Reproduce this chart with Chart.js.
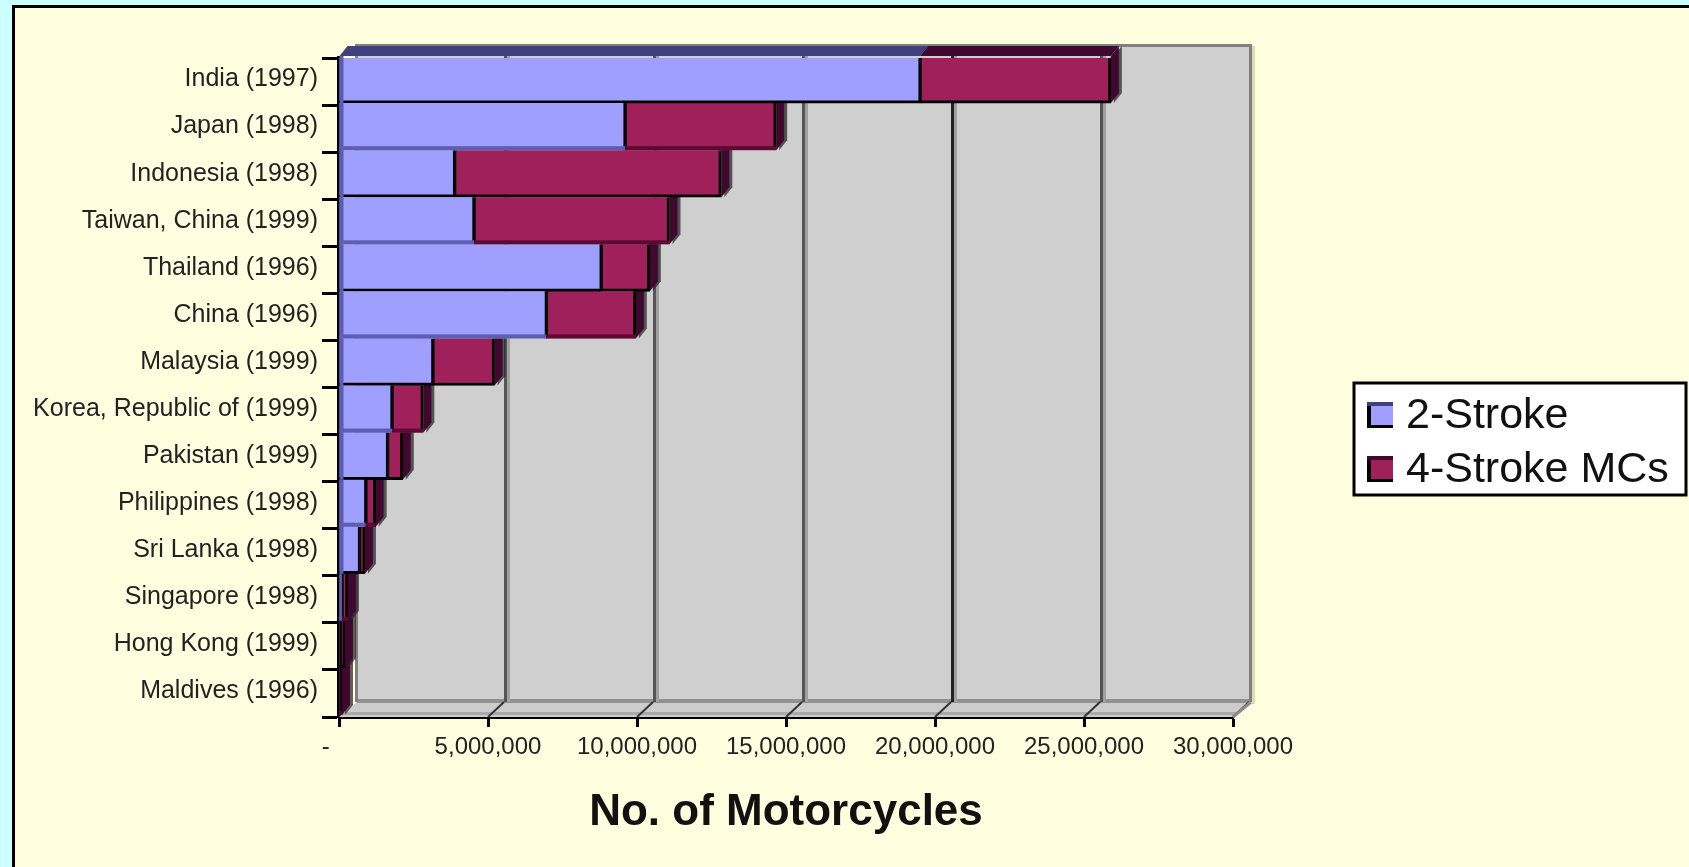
<!DOCTYPE html>
<html><head><meta charset="utf-8">
<script src="https://cdn.jsdelivr.net/npm/chart.js@4"></script>
<style>
html,body{margin:0;padding:0;background:#ccffff;overflow:hidden}
#panel{position:absolute;left:12px;top:5px;width:1700px;height:900px;background:#ffffdf;border:3px solid #000;box-sizing:border-box}
#wrap{position:absolute;left:0;top:0;width:1689px;height:867px}
canvas{filter:blur(0.5px)}
</style></head><body>
<div id="panel"></div>
<div id="wrap"><canvas id="c" width="1689" height="867"></canvas></div>
<script>
const categories=["India (1997)","Japan (1998)","Indonesia (1998)","Taiwan, China (1999)","Thailand (1996)","China (1996)","Malaysia (1999)","Korea, Republic of (1999)","Pakistan (1999)","Philippines (1998)","Sri Lanka (1998)","Singapore (1998)","Hong Kong (1999)","Maldives (1996)"];
const twoStroke=[19500000,9600000,3880000,4530000,8800000,6960000,3150000,1780000,1630000,900000,690000,100000,50000,10000];
const fourStroke=[6400000,5070000,8950000,6560000,1630000,3000000,2070000,1050000,510000,330000,180000,200000,150000,90000];
const xTickLabels=["-    ","5,000,000","10,000,000","15,000,000","20,000,000","25,000,000","30,000,000"];
const seriesNames=["2-Stroke","4-Stroke MCs"];
const xTitle="No. of Motorcycles";

const WALL_DX=18,WALL_TOP=12,WALL_BOT=15,BAR_DX=8,BAR_DY=10,BAR_LIFT=2;
const blue="#9f9fff",purple="#a0205c",blueDark="#40407f",purpleDark="#40082e";

const wall3d={id:'wall3d',
afterDatasetsUpdate(ch){
  ch.data.datasets.forEach((d,i)=>ch.getDatasetMeta(i).data.forEach(b=>{b.y-=BAR_LIFT;}));
},
beforeDatasetsDraw(ch){
  const {ctx,chartArea:a,scales:{x}}=ch;
  const wt=a.top-WALL_TOP,wb=a.bottom-WALL_BOT,wl=a.left+WALL_DX,wr=a.right+WALL_DX;
  ctx.save();
  // floor
  ctx.fillStyle="#cccccc";
  ctx.beginPath();ctx.moveTo(a.left,a.bottom);ctx.lineTo(wl,wb);ctx.lineTo(wr,wb);ctx.lineTo(a.right,a.bottom);ctx.closePath();ctx.fill();
  ctx.fillStyle="#aaaaaa";ctx.fillRect(a.left,a.bottom-5,a.width+3,3);
  // back wall
  ctx.fillStyle="#cfcfcf";
  ctx.fillRect(wl,wt,a.width,wb-wt);
  ctx.fillStyle="#919191";ctx.fillRect(wl,wb-3,a.width,4);
  // gridlines
  x.ticks.forEach((t,i)=>{
    if(i===0)return;
    const px=x.getPixelForTick(i)+WALL_DX;
    ctx.fillStyle="#a0a0a0";ctx.fillRect(px+1,wt,3,wb-wt);
    ctx.fillStyle=i===4?"#222":"#555";ctx.fillRect(px-2,wt,3,wb-wt);
    ctx.strokeStyle="#333";ctx.lineWidth=2;ctx.beginPath();ctx.moveTo(px-WALL_DX,a.bottom);ctx.lineTo(px-2,wb);ctx.stroke();
  });
  // wall frame
  ctx.fillStyle="#808080";
  ctx.fillRect(wl-2,wt-2,a.width+3,3);
  ctx.fillRect(wl-2,wt,3,wb-wt);
  ctx.fillRect(wr-2,wt,3,wb-wt);
  ctx.strokeStyle="#8a8a8a";ctx.lineWidth=3;
  ctx.beginPath();ctx.moveTo(a.right,a.bottom);ctx.lineTo(wr,wb);ctx.stroke();
  ctx.fillStyle="#dcdcb0";ctx.fillRect(wr+1,wt,3,wb-wt+2);
  // bar depth, bottom category first
  const m0=ch.getDatasetMeta(0).data,m1=ch.getDatasetMeta(1).data;
  for(let i=m1.length-1;i>=0;i--){
    const b0=m0[i],b1=m1[i];
    const top=b1.y-b1.height/2,bot=b1.y+b1.height/2,start=b0.base,mid=b0.x,end=b1.x;
    const dy=BAR_DY;
    ctx.fillStyle=blueDark;
    ctx.beginPath();ctx.moveTo(start,top);ctx.lineTo(start+BAR_DX,top-dy);ctx.lineTo(mid+BAR_DX,top-dy);ctx.lineTo(mid,top);ctx.closePath();ctx.fill();
    ctx.fillStyle=purpleDark;
    ctx.beginPath();ctx.moveTo(mid,top);ctx.lineTo(mid+BAR_DX,top-dy);ctx.lineTo(end+BAR_DX,top-dy);ctx.lineTo(end,top);ctx.closePath();ctx.fill();
    ctx.fillStyle="rgba(40,40,40,.75)";
    ctx.beginPath();ctx.moveTo(end+3,bot);ctx.lineTo(end+BAR_DX+3,bot-BAR_DY);ctx.lineTo(end+BAR_DX+3,top-dy);ctx.lineTo(end+3,top);ctx.closePath();ctx.fill();
    ctx.fillStyle=purpleDark;
    ctx.beginPath();ctx.moveTo(end,top);ctx.lineTo(end+BAR_DX,top-dy);ctx.lineTo(end+BAR_DX,bot-BAR_DY);ctx.lineTo(end,bot);ctx.closePath();ctx.fill();
  }
  ctx.restore();
},
afterDatasetsDraw(ch){
  const {ctx}=ch;
  const m0=ch.getDatasetMeta(0).data,m1=ch.getDatasetMeta(1).data;
  ctx.save();
  m0.forEach((b0,i)=>{
    const b1=m1[i],top=b0.y-b0.height/2,bot=b0.y+b0.height/2;
    // shaded strip on the left end of the bar
    if(b0.x-b0.base>=2){ctx.fillStyle="#5c5cb4";ctx.fillRect(b0.base,top,Math.min(4,b0.x-b0.base),b0.height);}
    else{ctx.fillStyle="#1a0010";ctx.fillRect(b0.base,top,3,b0.height);}
    // shaded lower edge on alternate rows
    if(i%2){
      ctx.fillStyle="#5e5eb0";ctx.fillRect(b0.base,bot-4,b0.x-b0.base,4);
      ctx.fillStyle="#5c0a34";ctx.fillRect(b1.base,bot-4,b1.x-b1.base,4);
    }
  });
  ctx.restore();
},
afterDraw(ch){
  const {ctx}=ch;
  ctx.save();
  // legend box
  const L=1354,T=383,W=332,H=112;
  ctx.fillStyle="#fff";ctx.fillRect(L,T,W,H);
  ctx.strokeStyle="#000";ctx.lineWidth=3;ctx.strokeRect(L,T,W,H);
  ch.data.datasets.forEach((d,i)=>{
    const y=T+19+i*54,x=L+13,s=26;
    ctx.fillStyle=d.backgroundColor;ctx.fillRect(x,y,s,s);
    ctx.fillStyle=i?purpleDark:blueDark;ctx.fillRect(x,y,s,4);
    ctx.fillStyle="#000";ctx.fillRect(x,y+4,4,s-4);ctx.fillRect(x,y+s-3,s,3);
    ctx.fillStyle="#111";
    ctx.font="43px 'Liberation Sans'";ctx.textBaseline="middle";ctx.textAlign="left";
    ctx.fillText(d.label,L+52,y+14);
  });
  ctx.restore();
}};

const edge=c=>(c.dataIndex%2?0:3);
new Chart(document.getElementById('c'),{
  type:'bar',
  data:{labels:categories,datasets:[
    {label:seriesNames[0],data:twoStroke,backgroundColor:blue,borderColor:"#000",borderWidth:c=>({right:2,bottom:edge(c)}),borderSkipped:false},
    {label:seriesNames[1],data:fourStroke,backgroundColor:purple,borderColor:"#000",borderWidth:c=>({left:2,right:3,bottom:edge(c)}),borderSkipped:false}
  ]},
  options:{
    indexAxis:'y',responsive:false,animation:false,
    layout:{padding:{left:0,top:58,right:456,bottom:0}},
    plugins:{legend:{display:false},tooltip:{enabled:false},title:{display:false}},
    datasets:{bar:{barPercentage:1,categoryPercentage:1}},
    scales:{
      x:{type:'linear',stacked:true,min:0,max:30000000,
        afterFit(s){s.height=150;},
        afterBuildTicks(s){s.ticks=xTickLabels.map((_,i)=>({value:i*5000000}));},
        grid:{drawOnChartArea:false,drawTicks:true,tickLength:10,tickColor:"#000",tickWidth:3},
        border:{color:"#000",width:3},
        ticks:{autoSkip:false,maxRotation:0,padding:6,color:"#222",font:{family:"'Liberation Sans'",size:24},
          callback(v,i){return xTickLabels[i];}},
        title:{display:true,text:xTitle,color:"#111",font:{family:"'Liberation Sans'",size:44,weight:'bold'},padding:{top:10,bottom:28}}
      },
      y:{stacked:true,
        afterFit(s){s.width=339;},
        grid:{drawOnChartArea:false,drawTicks:true,tickLength:17,tickColor:"#000",tickWidth:3,offset:true},
        border:{color:"#000",width:4},
        ticks:{autoSkip:false,padding:4,labelOffset:-2,color:"#222",font:{family:"'Liberation Sans'",size:25}}
      }
    }
  },
  plugins:[wall3d]
});
</script>
</body></html>
